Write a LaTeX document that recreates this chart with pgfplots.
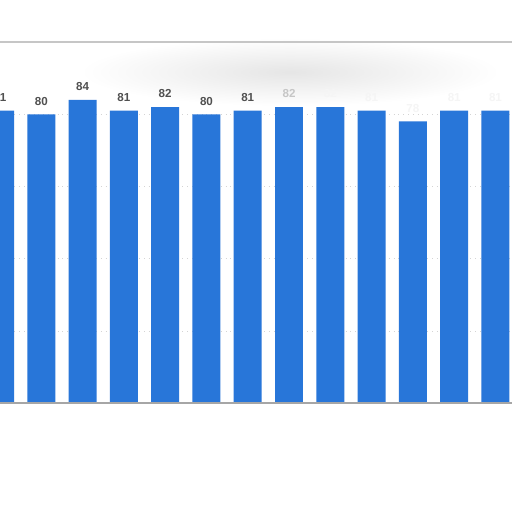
\documentclass[border=0pt]{standalone}
\usepackage{pgfplots}
\pgfplotsset{compat=1.18}
\usepackage{fontspec}
\setmainfont{Liberation Sans}
\definecolor{barblue}{HTML}{2876D9}
\definecolor{lbl}{HTML}{505050}
\definecolor{gridc}{HTML}{D4D4D4}
\begin{document}
\begin{tikzpicture}[x=0.5pt,y=0.5pt]
\useasboundingbox (0,0) rectangle (512,512);
\fill[white] (0,0) rectangle (512,512);
\shade[inner color=gray!20, outer color=white] (290,440) ellipse (210 and 34);
\begin{axis}[
  at={(0pt,54.35pt)}, anchor=south west,
  scale only axis, width=256pt, height=180.65pt,
  xmin=0, xmax=12.4, ymin=0, ymax=100,
  axis line style={draw=none},
  xtick=\empty, ytick={20,40,60,80},
  yticklabels={}, major tick length=0pt,
  ymajorgrids, grid style={gridc, dotted, line width=0.4pt},
  bar width=14pt,
  nodes near coords={\pgfmathprintnumber[assume math mode=true]{\pgfplotspointmeta}},
  nodes near coords style={font=\bfseries\fontsize{5.8}{7}\selectfont, text=lbl, anchor=base, inner sep=0pt, yshift=4.6pt},
]
\addplot[ybar, fill=barblue, draw=none] coordinates {
 (0,81) (1,80) (2,84) (3,81) (4,82) (5,80) (6,81)
};
\addplot[ybar, fill=barblue, draw=none,
  nodes near coords style={text=gray!45}] coordinates {
 (7,82)
};
\addplot[ybar, fill=barblue, draw=none,
  nodes near coords style={text=gray!8}] coordinates {
 (8,82) (9,81) (10,78) (11,81) (12,81)
};
\draw[gray!70, line width=0.8pt] (rel axis cs:0,0) -- (rel axis cs:1,0);
\draw[gray!45, line width=0.8pt] (rel axis cs:0,1) -- (rel axis cs:1,1);
\end{axis}
\end{tikzpicture}
\end{document}
